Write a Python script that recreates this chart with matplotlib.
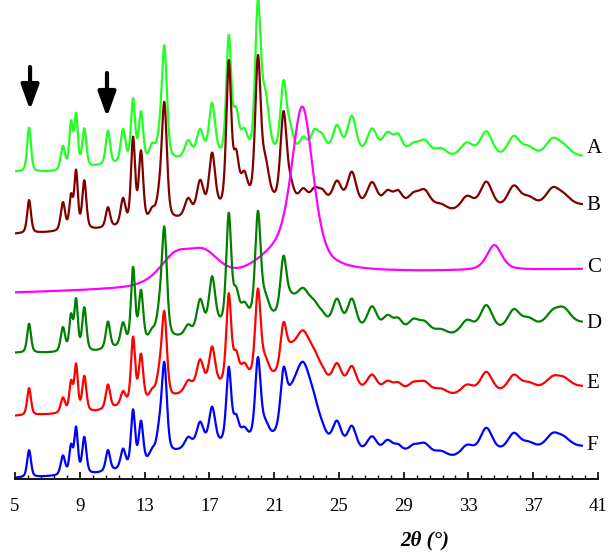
import numpy as np
import matplotlib
matplotlib.use("Agg")
import matplotlib.pyplot as plt
from matplotlib.ticker import FixedLocator

# ---- data (2-theta in degrees, intensity in arbitrary units) ----
# shared reflection positions / widths of the crystalline phase
PEAK_POS = [5.87, 7.96, 8.46, 8.77, 9.28, 10.74, 11.67, 12.29, 12.78, 13.47,
            13.9, 14.22, 15.69, 16.43, 17.17, 18.2, 18.65, 19.15, 20.0, 20.45,
            21.58, 22.0, 22.8, 23.5, 23.98, 24.88, 25.8, 27.05, 28.0, 28.66,
            29.6, 30.3, 31.3, 32.9, 34.1, 35.8, 36.7, 38.2, 38.9]
PEAK_FWHM = [0.28, 0.32, 0.26, 0.26, 0.3, 0.32, 0.35, 0.3, 0.32, 0.4,
             0.4, 0.38, 0.5, 0.5, 0.45, 0.36, 0.4, 0.5, 0.4, 0.55,
             0.45, 0.5, 0.6, 0.6, 0.6, 0.65, 0.65, 0.75, 0.75, 0.65,
             0.8, 0.8, 0.9, 1.0, 0.9, 0.9, 0.9, 1.0, 1.0]

H_A = [44, 24, 45, 52, 38, 34, 33, 62, 48, 14, 15, 112, 17, 27, 53, 118, 40, 22, 146, 55,
       70, 22, 16, 22, 16, 29, 39, 26, 21, 18, 10, 14, 8, 15, 26, 20, 8, 16, 8]
H_B = [33, 28, 32, 57, 48, 20, 26, 85, 70, 10, 18, 115, 18, 33, 57, 143, 45, 27, 140, 36,
       88, 16, 13, 13, 11, 22, 33, 25, 16, 14, 11, 15, 5, 16, 28, 21, 8, 16, 8]
H_D = [29, 24, 34, 50, 43, 27, 22, 75, 50, 8, 22, 108, 10, 32, 50, 108, 27, 14, 104, 18,
       55, 6, 6, 6, 6, 28, 30, 25, 16, 12, 12, 10, 5, 15, 27, 19, 8, 12, 14]
H_E = [27, 15, 29, 46, 35, 24, 13, 65, 46, 8, 20, 84, 10, 28, 39, 88, 25, 14, 87, 16,
       44, 6, 6, 6, 6, 22, 22, 17, 11, 8, 8, 9, 5, 11, 22, 16, 6, 10, 8]
H_F = [27, 19, 27, 45, 36, 21, 19, 56, 42, 8, 22, 89, 10, 23, 37, 74, 22, 11, 80, 14,
       52, 6, 6, 5, 5, 26, 24, 17, 14, 8, 8, 10, 5, 12, 26, 17, 6, 13, 8]

# background (baseline) knots, already including each trace's vertical offset
BASE_X = [5, 8, 10, 12.5, 14.5, 16, 17.5, 19.5, 21, 25, 27.6, 30, 32.5, 35, 37, 41]
BASE_A = [307, 307, 312, 315, 317, 319, 319, 320, 321, 321, 321, 322, 319, 320, 322, 322]
BASE_B = [245, 247, 249, 253, 257, 260, 266, 273, 274, 273, 268, 272, 264, 269, 272, 274]
BASE_D = [126, 126, 127, 134, 139, 142, 151, 158, 159, 149, 144, 145, 141, 147, 151, 157]
BASE_E = [63, 65, 67, 75, 79, 88, 91, 98, 99, 91, 84, 87, 81, 85, 89, 93]
BASE_F = [1, 3, 5, 11, 24, 31, 33, 37, 38, 29, 22, 24, 19, 26, 29, 33]

# amorphous halo under the physical mixtures (centre, height, fwhm)
HALO_POS = 22.75
HALO_FWHM = 1.7
HALO_H = {"D": 28, "E": 45, "F": 75}

# trace C: fully amorphous sample
C_BASE_X = [5, 12, 17, 20, 23, 25, 30, 41]
C_BASE_Y = [186, 189, 192, 195, 201, 206, 207, 210]
C_PEAK_POS = [14.9, 16.7, 21.0, 22.75, 34.6]
C_PEAK_FWHM = [2.4, 2.4, 3.5, 1.6, 1.1]
C_PEAK_H = [28, 28, 22, 160, 25]

LABELS = ["A", "B", "C", "D", "E", "F"]
LABEL_Y = [331, 274, 211, 156, 96, 34]
COLORS = ["#22ff22", "#800000", "#ff00ff", "#008000", "#ff0000", "#0000ff"]

ARROW_X = [5.93, 10.68]
ARROW_TOP = [412, 406]
ARROW_TIP = [369, 362]


def pv(x, c, w, eta=0.4):
    lor = 1.0 / (1.0 + ((x - c) / (w / 2)) ** 2)
    gau = np.exp(-4 * np.log(2) * ((x - c) / w) ** 2)
    return eta * lor + (1 - eta) * gau


def pattern(x, heights, base, halo=0.0):
    y = np.interp(x, BASE_X, base)
    for c, w, h in zip(PEAK_POS, PEAK_FWHM, heights):
        y = y + h * pv(x, c, w)
    if halo:
        y = y + halo * np.exp(-4 * np.log(2) * ((x - HALO_POS) / HALO_FWHM) ** 2)
    return y


tt = np.linspace(5, 40, 3501)
curve_c = np.interp(tt, C_BASE_X, C_BASE_Y)
for c, w, h in zip(C_PEAK_POS, C_PEAK_FWHM, C_PEAK_H):
    curve_c = curve_c + h * pv(tt, c, w, eta=0.5)

curves = [
    pattern(tt, H_A, BASE_A),
    pattern(tt, H_B, BASE_B),
    curve_c,
    pattern(tt, H_D, BASE_D, HALO_H["D"]),
    pattern(tt, H_E, BASE_E, HALO_H["E"]),
    pattern(tt, H_F, BASE_F, HALO_H["F"]),
]

plt.rcParams["font.family"] = ["Liberation Serif", "DejaVu Serif"]

fig = plt.figure(figsize=(6.08, 5.58), dpi=100)
ax = fig.add_axes([15 / 608, 79 / 558, 583 / 608, 479 / 558])

for y, col in zip(curves, COLORS):
    ax.plot(tt, y, color=col, lw=1.6)

for lab, ly in zip(LABELS, LABEL_Y):
    ax.text(40.3, ly, lab, fontsize=15, va="center", ha="left", clip_on=False)

for xa, top, tip in zip(ARROW_X, ARROW_TOP, ARROW_TIP):
    ax.annotate("", xy=(xa, tip), xytext=(xa, top),
                arrowprops=dict(arrowstyle="-|>,head_width=0.27,head_length=0.75",
                                lw=3, color="black", mutation_scale=20,
                                shrinkA=0, shrinkB=0))

ax.set_xlim(5, 41)
ax.set_ylim(0, 479)
for s in ("left", "right", "top"):
    ax.spines[s].set_visible(False)
ax.spines["bottom"].set_linewidth(1.3)
ax.set_yticks([])
ax.set_xticks(np.arange(5, 42, 4))
ax.xaxis.set_minor_locator(FixedLocator(np.arange(5, 41.01, 0.8)))
ax.tick_params(axis="x", which="major", direction="in", length=5, width=1.2,
               labelsize=13.5, pad=14)
ax.tick_params(axis="x", which="minor", direction="in", length=3, width=1)
ax.patch.set_visible(False)

fig.text(425 / 608, 1 - 540 / 558, "2θ (°)", fontsize=15, fontweight="bold",
         fontstyle="italic", ha="center", va="center")

fig.savefig("out.png", dpi=100)
